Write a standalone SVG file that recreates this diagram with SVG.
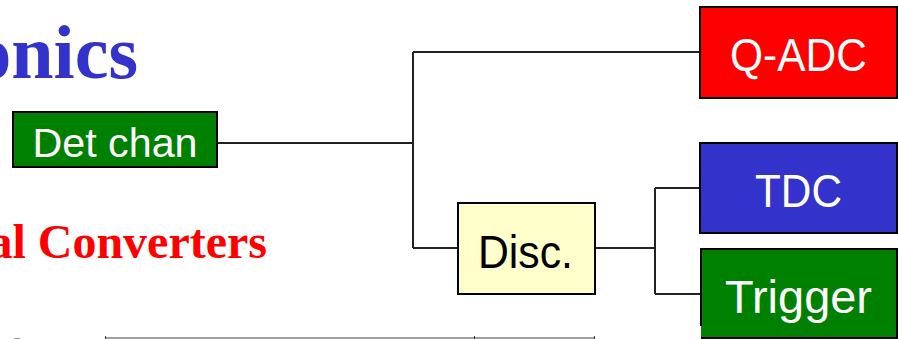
<svg xmlns="http://www.w3.org/2000/svg" width="898" height="339" viewBox="0 0 898 339">
<style>
.box{stroke:#000;stroke-width:2}
.lbl{font-family:"Liberation Sans",Arial,sans-serif;fill:#fff;text-anchor:middle}
.conn{fill:none;stroke:#222;stroke-width:2}
.title{font-family:"Liberation Serif","Times New Roman",serif;font-weight:bold;text-anchor:end}
</style>
<rect width="898" height="339" fill="#fff"/>
<text class="title" x="138" y="78" font-size="76" fill="#3333CC">onics</text>
<text class="title" x="267" y="258" font-size="48" fill="#FF0000">al Converters</text>
<g id="connectors">
<path class="conn" d="M217 143H413M413 52V248M413 52H700M413 248H458M595 248H655M655 188V294M655 188H700M655 294H700"/>
</g>
<g id="det">
<rect class="box" x="13" y="112" width="204" height="55" fill="#008000"/>
<text class="lbl" x="115" y="157" font-size="41" textLength="165" lengthAdjust="spacingAndGlyphs">Det chan</text>
</g>
<g id="qadc">
<rect class="box" x="700" y="7" width="197" height="91" fill="#FF0000"/>
<text class="lbl" x="798.5" y="71" font-size="46" textLength="137" lengthAdjust="spacingAndGlyphs">Q-ADC</text>
</g>
<g id="tdc">
<rect class="box" x="700" y="143" width="197" height="90" fill="#3333CC"/>
<text class="lbl" x="798.5" y="207" font-size="46" textLength="87" lengthAdjust="spacingAndGlyphs">TDC</text>
</g>
<g id="disc">
<rect class="box" x="458" y="203" width="137" height="91" fill="#FFFFCC"/>
<text class="lbl" x="525.5" y="268" font-size="46" fill="#000" style="fill:#000" textLength="95" lengthAdjust="spacingAndGlyphs">Disc.</text>
</g>
<g id="trigger">
<rect x="701" y="249" width="196" height="89" fill="#008000"/>
<path d="M701 326V249H897V338H701" fill="none" stroke="#000" stroke-width="2"/>
<text class="lbl" x="798.5" y="313" font-size="46" textLength="147" lengthAdjust="spacingAndGlyphs">Trigger</text>
</g>
<g id="table-edge">
<line x1="105" y1="338" x2="595" y2="338" stroke="#a0a0a0" stroke-width="2"/>
<line x1="105.5" y1="336" x2="105.5" y2="339" stroke="#333" stroke-width="1"/>
<line x1="474.5" y1="336" x2="474.5" y2="339" stroke="#333" stroke-width="1"/>
<line x1="594.5" y1="336" x2="594.5" y2="339" stroke="#333" stroke-width="1"/>
<line x1="14" y1="338.5" x2="20" y2="338.5" stroke="#999" stroke-width="1"/>
</g>
</svg>
